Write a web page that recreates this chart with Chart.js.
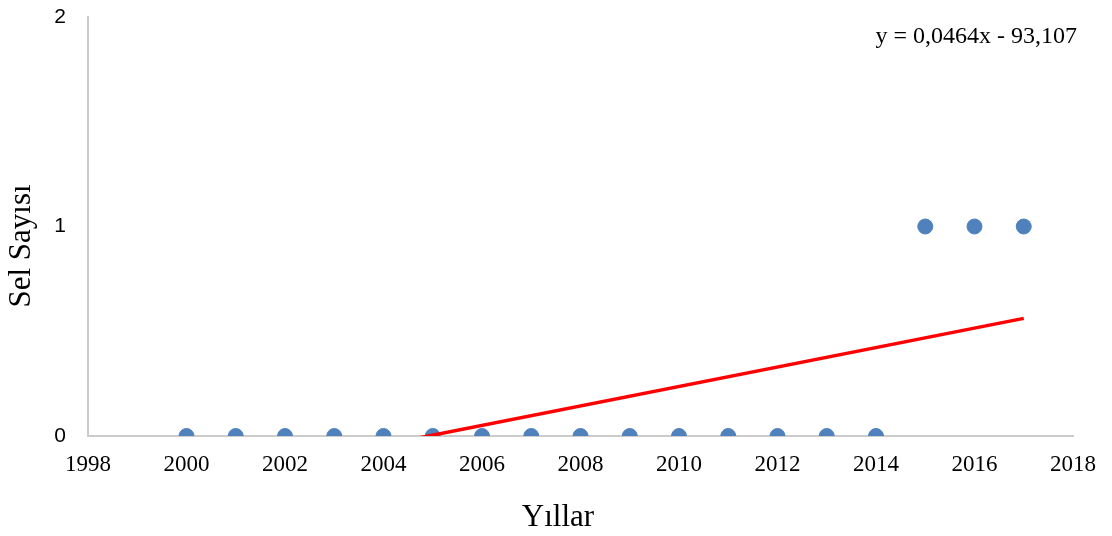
<!DOCTYPE html>
<html>
<head>
<meta charset="utf-8">
<script src="https://cdn.jsdelivr.net/npm/chart.js@4"></script>
<style>
  html, body { margin: 0; padding: 0; background: #fff; }
  #wrap { width: 1112px; height: 536px; position: relative; }
</style>
</head>
<body>
<div id="wrap"><canvas id="canvas"></canvas></div>
<script>
// yearly flood counts
const years = [2000, 2001, 2002, 2003, 2004, 2005, 2006, 2007, 2008, 2009,
  2010, 2011, 2012, 2013, 2014, 2015, 2016, 2017];
const floods = [0, 0, 0, 0, 0, 0, 0, 0, 0, 0, 0, 0, 0, 0, 0, 1, 1, 1];
const xTicks = [1998, 2000, 2002, 2004, 2006, 2008, 2010, 2012, 2014, 2016, 2018];
const yTicks = [0, 1, 2];

// least squares trend line
const n = years.length;
const mx = years.reduce((a, b) => a + b, 0) / n;
const my = floods.reduce((a, b) => a + b, 0) / n;
let sxy = 0, sxx = 0;
for (let i = 0; i < n; i++) {
  sxy += (years[i] - mx) * (floods[i] - my);
  sxx += (years[i] - mx) * (years[i] - mx);
}
const slope = sxy / sxx;
const intercept = my - slope * mx;
const x0 = Math.min(...years), x1 = Math.max(...years);
const trend = [
  { x: x0, y: slope * x0 + intercept },
  { x: x1, y: slope * x1 + intercept }
];

const trLabel = 'y = ' + slope.toFixed(4).replace('.', ',') + 'x ' +
  (intercept < 0 ? '- ' : '+ ') + Math.abs(intercept).toFixed(3).replace('.', ',');

const serif = '"Liberation Serif", "Times New Roman", serif';

// equation and axis titles
const textPlugin = {
  id: 'texts',
  afterDraw(chart) {
    const ctx = chart.ctx;
    ctx.save();
    ctx.fillStyle = '#000';
    ctx.textBaseline = 'middle';

    ctx.font = '24px ' + serif;
    ctx.textAlign = 'right';
    ctx.fillText(trLabel, 1077, 37);

    ctx.font = '31px ' + serif;
    ctx.textAlign = 'center';
    ctx.fillText('Yıllar', 558, 518);

    ctx.translate(22, 246);
    ctx.rotate(-Math.PI / 2);
    ctx.fillText('Sel Sayısı', 0, 0);
    ctx.restore();
  }
};

const data = {
  datasets: [
    {
      type: 'line',
      label: 'Trend',
      data: trend,
      borderColor: '#ff0000',
      borderWidth: 3.5,
      pointRadius: 0,
      fill: false,
      clip: 0
    },
    {
      type: 'scatter',
      label: 'Sel Sayısı',
      data: years.map((y, i) => ({ x: y, y: floods[i] })),
      backgroundColor: '#4f81bd',
      borderColor: '#4f81bd',
      pointRadius: 7.5,
      pointHoverRadius: 7.5
    }
  ]
};

const config = {
  type: 'scatter',
  data,
  options: {
    responsive: true,
    maintainAspectRatio: false,
    animation: false,
    layout: { padding: { top: 17, right: 39, left: 0, bottom: 0 } },
    plugins: {
      legend: { display: false },
      tooltip: { enabled: false }
    },
    scales: {
      x: {
        type: 'linear',
        min: xTicks[0],
        max: xTicks[xTicks.length - 1],
        afterBuildTicks: (s) => { s.ticks = xTicks.map(v => ({ value: v })); },
        afterFit: (s) => { s.height = 100; },
        grid: { display: false, drawTicks: false },
        border: { color: '#cccccc', width: 2 },
        ticks: {
          padding: 15,
          color: '#000',
          font: { family: serif, size: 23 },
          callback: (v) => String(v)
        }
      },
      y: {
        type: 'linear',
        min: yTicks[0],
        max: yTicks[yTicks.length - 1],
        afterBuildTicks: (s) => { s.ticks = yTicks.map(v => ({ value: v })); },
        afterFit: (s) => {
          s.width = 88;
          s.paddingTop = 0;
          s.paddingBottom = 0;
        },
        grid: { display: false, drawTicks: false },
        border: { color: '#cccccc', width: 2 },
        ticks: {
          padding: 22,
          color: '#000',
          font: { family: '"Liberation Sans", Arial, sans-serif', size: 21 }
        }
      }
    }
  },
  plugins: [textPlugin]
};

let myChart = new Chart(document.getElementById('canvas'), config);
</script>
</body>
</html>
